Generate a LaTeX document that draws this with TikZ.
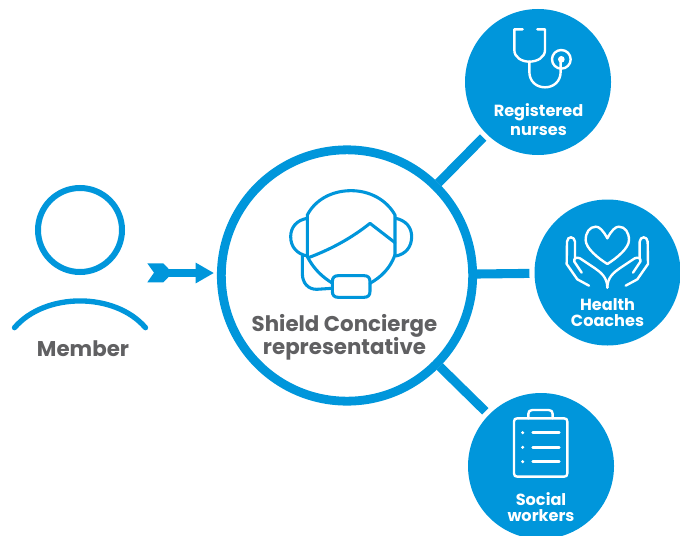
\documentclass[tikz,border=0pt]{standalone}
\usepackage{fontspec}
\setmainfont{Poppins}
\usetikzlibrary{arrows.meta}
\definecolor{shieldblue}{HTML}{0096DB}
\definecolor{labelgray}{HTML}{606062}

\begin{document}
\begin{tikzpicture}[
x=0.75pt, y=-0.75pt,
bubble/.style = {circle, fill=shieldblue, minimum size=109.5pt,
            inner sep=0pt, outer sep=0pt},
hub/.style = {circle, draw=shieldblue, line width=6.6pt, minimum size=188.5pt,
            inner sep=0pt, fill=white},
link/.style = {shieldblue, line width=6.8pt, shorten >=3.8pt},
title/.style = {labelgray, font=\bfseries\fontsize{16pt}{17.5pt}\selectfont, align=center,
            inner sep=0pt},
tag/.style = {white, font=\bfseries\fontsize{12.1pt}{11.8pt}\selectfont, align=center,
            inner sep=0pt},
icon/.style = {white, line width=1.8pt, line cap=round, line join=round},
headset/.style = {shieldblue, line width=2.3pt, line cap=round, line join=round}
                ]
    \useasboundingbox (0,0) rectangle (680,535);
    \node[hub] at (347,275.5) (main) {};
    \foreach \x/\y/\u in {538/82/rn, 607.5/272.5/hc, 541/466/sw}
        \node[bubble] at (\x,\y) (\u) {};
    \foreach \u in {rn, hc, sw}
        \draw [link] (main) -- (\u);
    % labels
    \node[title] at (344.5,337.5) (mainlabel) {Shield Concierge\\representative};
    \node[title,anchor=base] at (83,356.7) (memberlabel) {Member};
    \node[tag] at (538.5,119.5) (rnlabel) {Registered\\[2.1pt]nurses};
    \node[tag] at (607.5,312.5) (hclabel) {Health\\Coaches};
    \node[tag] at (541,507) (swlabel) {Social\\workers};
    % member
    \draw [shieldblue,line width=4.5pt] (80,230) circle [radius=42];
    \draw [shieldblue,line width=4pt,line cap=round] (14.5,327.7) .. controls (45,292) and (115,292) .. (145.5,327.7);
    % arrow
    \coordinate (tail) at (166,273);
    \coordinate (head) at (214,273);
    \fill [shieldblue] (147.3,263.3) -- (163.3,263.3) -- (168.3,268.3) -- (168.3,277.3) -- (163.3,282.3) -- (147.3,282.3) -- (154,272.7) -- cycle;
    \draw [shieldblue,line width=6.7pt,-{Triangle[length=13.7pt,width=14.5pt]}] (tail) -- (head);
    % headset
    \begin{scope}[headset,shift={(270,170)},scale=0.3333]
        \draw (112,260) -- (112,135) .. controls (135,90) and (185,62) .. (243,62) .. controls (300,62) and (350,90) .. (375,135) -- (375,255);
        \draw (112,260) .. controls (130,295) and (155,320) .. (188,340);
        \draw (375,255) .. controls (360,295) and (335,320) .. (300,340);
        \draw (118,262) .. controls (190,235) and (250,200) .. (300,160) -- (375,218);
        \draw (112,145) .. controls (80,150) and (62,172) .. (62,200) .. controls (62,230) and (80,252) .. (112,258);
        \draw (378,145) .. controls (408,152) and (425,172) .. (425,200) .. controls (425,230) and (408,252) .. (378,258);
        \draw (97,258) -- (97,310) .. controls (97,340) and (115,358) .. (140,358) -- (185,355);
        \draw (205,317) -- (282,317) .. controls (294,317) and (300,323) .. (300,335) -- (300,364) .. controls (300,376) and (294,382) .. (282,382) -- (205,382) .. controls (193,382) and (187,376) .. (187,364) -- (187,335) .. controls (187,323) and (193,317) .. (205,317) -- cycle;
    \end{scope}
    % stethoscope
    \begin{scope}[icon,shift={(460,0)},scale=0.3333]
        \draw (188,88) -- (163,88) -- (163,150) .. controls (163,172) and (185,185) .. (208,185) .. controls (232,185) and (255,172) .. (255,150) -- (255,88) -- (232,88);
        \draw (208,185) -- (208,215) .. controls (208,245) and (230,262) .. (255,262) .. controls (280,262) and (302,245) .. (302,215) -- (302,180);
        \draw (304,178) circle [radius=28];
        \fill (304,178) circle [radius=10];
    \end{scope}
    % hands and heart
    \begin{scope}[icon,shift={(520,190)},scale=0.3333]
        \draw (262,145) .. controls (250,122) and (238,110) .. (228,110) .. controls (208,110) and (197,128) .. (197,150) .. controls (197,175) and (235,205) .. (262,222) .. controls (289,205) and (327,175) .. (327,150) .. controls (327,128) and (316,110) .. (296,110) .. controls (286,110) and (274,122) .. (262,145) -- cycle;
        \foreach \s in {1,-1} {
            \begin{scope}[shift={(262,0)},xscale=\s]
                \draw (-55,287) -- (-90,268) -- (-122,222) -- (-121,155) .. controls (-120,146) and (-115,142) .. (-109,142) .. controls (-103,142) and (-98,147) .. (-97,155) -- (-97,205);
                \draw (-77,248) -- (-99,215) .. controls (-102,205) and (-92,200) .. (-82,205) -- (-37,235) .. controls (-20,247) and (0,262) .. (0,293);
            \end{scope}
        }
    \end{scope}
    % clipboard
    \begin{scope}[icon,shift={(460,390)},scale=0.3333]
        \draw (172,85) -- (312,85) .. controls (319,85) and (322,88) .. (322,95) -- (322,250) .. controls (322,257) and (319,260) .. (312,260) -- (172,260) .. controls (165,260) and (162,257) .. (162,250) -- (162,95) .. controls (162,88) and (165,85) .. (172,85) -- cycle;
        \draw (205,85) -- (205,72) .. controls (205,64) and (209,60) .. (217,60) -- (266,60) .. controls (274,60) and (278,64) .. (278,72) -- (278,85);
        \foreach \y in {128,172,215} {
            \fill (188,\y) circle [radius=5];
            \draw (218,\y) -- (298,\y);
        }
    \end{scope}
\end{tikzpicture}
\end{document}
